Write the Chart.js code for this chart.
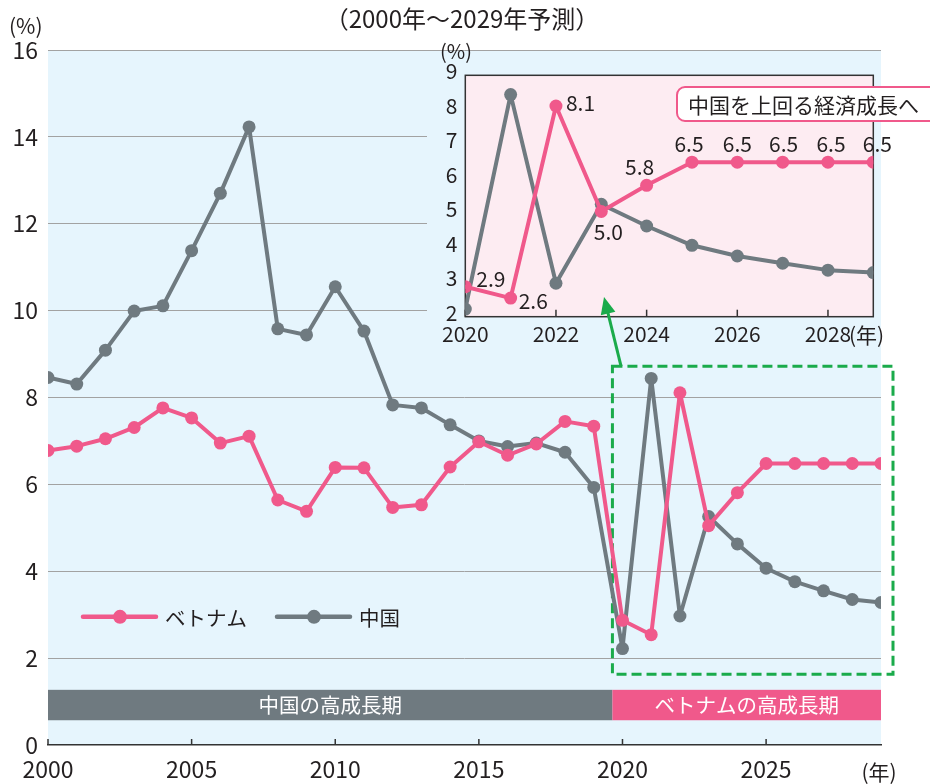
<!DOCTYPE html>
<html>
<head>
<meta charset="utf-8">
<script src="https://cdn.jsdelivr.net/npm/chart.js@4.4.1/dist/chart.umd.min.js"></script>
<style>
  html, body { margin: 0; padding: 0; background: #fff; }
  #wrap { position: relative; width: 930px; height: 784px; overflow: hidden; }
  #main { position: absolute; left: 0; top: 0; }
  #inset { position: absolute; left: 427px; top: 38px; }
</style>
</head>
<body>
<div id="wrap">
  <canvas id="main" width="930" height="784" style="width:930px;height:784px"></canvas>
  <canvas id="inset" width="503" height="340" style="width:503px;height:340px"></canvas>
</div>
<script>
// データ
const years = [2000, 2001, 2002, 2003, 2004, 2005, 2006, 2007, 2008, 2009,
               2010, 2011, 2012, 2013, 2014, 2015, 2016, 2017, 2018, 2019,
               2020, 2021, 2022, 2023, 2024, 2025, 2026, 2027, 2028, 2029];
const vietnam = [6.78, 6.88, 7.05, 7.31, 7.76, 7.53, 6.95, 7.11, 5.64, 5.38,
                 6.39, 6.38, 5.47, 5.53, 6.40, 6.98, 6.67, 6.93, 7.45, 7.34,
                 2.87, 2.54, 8.11, 5.05, 5.81, 6.48, 6.48, 6.48, 6.48, 6.48];
const china = [8.46, 8.31, 9.09, 9.99, 10.11, 11.38, 12.70, 14.23, 9.58, 9.44,
               10.55, 9.53, 7.83, 7.76, 7.37, 7.00, 6.87, 6.95, 6.74, 5.93,
               2.22, 8.44, 2.97, 5.26, 4.63, 4.07, 3.76, 3.55, 3.35, 3.28];
const xTicks = [2000, 2005, 2010, 2015, 2020, 2025];
const yTicks = [0, 2, 4, 6, 8, 10, 12, 14, 16];

// 高成長期の帯
const periodEdges = [2000, 2019.65, 2029];
const periodLabels = ['中国の高成長期', 'ベトナムの高成長期'];

// 拡大図（2020年以降）
const insetStart = 20;
const insetYears = years.slice(insetStart);
const insetVietnam = vietnam.slice(insetStart);
const insetChina = china.slice(insetStart);
const insetXTicks = [2020, 2022, 2024, 2026, 2028];
const insetYTicks = [2, 3, 4, 5, 6, 7, 8, 9];
const vietnamLabels = ['2.9', '2.6', '8.1', '5.0', '5.8', '6.5', '6.5', '6.5', '6.5', '6.5'];

const FONT = '"Noto Sans CJK JP", "Noto Sans", sans-serif';
const PINK = '#f0598b';
const GRAY = '#6f7a80';
const SKY = '#e6f5fd';
const ROSE = '#fdecf2';
const GREEN = '#1aab4b';
const INK = '#231f20';

function toPoints(xs, ys) {
    return xs.map((x, i) => ({ x: x, y: ys[i] }));
}

function lineSet(label, data, color) {
    return {
        label: label,
        data: data,
        borderColor: color,
        backgroundColor: color,
        borderWidth: 4,
        borderJoinStyle: 'round',
        borderCapStyle: 'round',
        pointRadius: 6.5,
        pointHoverRadius: 6.5,
        pointBorderWidth: 0,
        tension: 0
    };
}

const mainDecor = {
    id: 'mainDecor',
    beforeDraw(chart) {
        const { ctx, chartArea: a } = chart;
        ctx.save();
        ctx.fillStyle = SKY;
        ctx.fillRect(a.left, a.top, a.right - a.left, a.bottom - a.top);
        ctx.restore();
    },
    beforeDatasetsDraw(chart) {
        const { ctx, chartArea: a } = chart;
        const xs = chart.scales.x, ys = chart.scales.y;
        ctx.save();
        // 帯
        const bandColors = [GRAY, PINK];
        const yTop = ys.getPixelForValue(1.27), yBot = ys.getPixelForValue(0.57);
        for (let i = 0; i < periodLabels.length; i++) {
            const x1 = xs.getPixelForValue(periodEdges[i]);
            const x2 = xs.getPixelForValue(periodEdges[i + 1]);
            ctx.fillStyle = bandColors[i];
            ctx.fillRect(x1, yTop, x2 - x1, yBot - yTop);
            ctx.fillStyle = '#fff';
            ctx.font = '20.5px ' + FONT;
            ctx.textAlign = 'center';
            ctx.textBaseline = 'middle';
            ctx.fillText(periodLabels[i], (x1 + x2) / 2, (yTop + yBot) / 2);
        }
        // 内向きの目盛り
        ctx.strokeStyle = '#333';
        ctx.lineWidth = 1.5;
        xTicks.forEach(v => {
            const x = xs.getPixelForValue(v);
            ctx.beginPath();
            ctx.moveTo(x, a.bottom - 6);
            ctx.lineTo(x, a.bottom);
            ctx.stroke();
        });
        // 点線の枠
        ctx.strokeStyle = GREEN;
        ctx.lineWidth = 3;
        ctx.setLineDash([10, 5]);
        const rx1 = xs.getPixelForValue(2019.65), rx2 = xs.getPixelForValue(2029) + 12;
        const ry1 = ys.getPixelForValue(8.72), ry2 = ys.getPixelForValue(1.63);
        ctx.strokeRect(rx1, ry1, rx2 - rx1, ry2 - ry1);
        ctx.restore();
    },
    afterDraw(chart) {
        const { ctx, chartArea: a } = chart;
        const ys = chart.scales.y;
        ctx.save();
        ctx.fillStyle = INK;
        ctx.textBaseline = 'middle';
        ctx.font = '24px ' + FONT;
        ctx.textAlign = 'center';
        ctx.fillText('（2000年～2029年予測）', 462, 19);
        ctx.font = '21px ' + FONT;
        ctx.textAlign = 'left';
        ctx.fillText('(%)', 9, 26);
        ctx.font = '21px ' + FONT;
        ctx.textAlign = 'center';
        ctx.fillText('(年)', a.right - 2, 772);

        // 凡例
        const ly = ys.getPixelForValue(2.95);
        const items = [[PINK, 'ベトナム', 35], [GRAY, '中国', 229]];
        items.forEach(([c, t, off]) => {
            const x0 = a.left + off;
            ctx.strokeStyle = c;
            ctx.lineWidth = 4.5;
            ctx.lineCap = 'round';
            ctx.beginPath();
            ctx.moveTo(x0, ly);
            ctx.lineTo(x0 + 73, ly);
            ctx.stroke();
            ctx.fillStyle = c;
            ctx.beginPath();
            ctx.arc(x0 + 37, ly, 7, 0, Math.PI * 2);
            ctx.fill();
            ctx.fillStyle = INK;
            ctx.font = '20.5px ' + FONT;
            ctx.textAlign = 'left';
            ctx.fillText(t, x0 + 82, ly + 1);
        });
        ctx.restore();
    }
};

new Chart(document.getElementById('main'), {
    type: 'line',
    data: {
        datasets: [
            lineSet('ベトナム', toPoints(years, vietnam), PINK),
            lineSet('中国', toPoints(years, china), GRAY)
        ]
    },
    options: {
        responsive: false,
        animation: false,
        events: [],
        layout: { padding: { top: 50, right: 49, left: 0, bottom: 0 } },
        plugins: { legend: { display: false }, tooltip: { enabled: false } },
        scales: {
            x: {
                type: 'linear',
                min: 2000,
                max: 2029,
                afterBuildTicks: s => { s.ticks = xTicks.map(v => ({ value: v })); },
                afterFit: s => { s.height = 39; },
                grid: { drawOnChartArea: false, drawTicks: false },
                border: { display: true, color: '#333', width: 1.5 },
                ticks: {
                    autoSkip: false, maxRotation: 0, padding: 10, color: INK,
                    font: { family: FONT, size: 23 },
                    callback: v => String(v)
                }
            },
            y: {
                min: 0,
                max: 16,
                afterBuildTicks: s => { s.ticks = yTicks.map(v => ({ value: v })); },
                afterFit: s => { s.width = 48; },
                grid: {
                    drawTicks: false,
                    lineWidth: 1,
                    color: c => c.tick && c.tick.value === 0 ? 'rgba(0,0,0,0)' : '#a2a2a2'
                },
                border: { display: false },
                ticks: { padding: 10, color: INK, font: { family: FONT, size: 23 } }
            }
        }
    },
    plugins: [mainDecor]
});

const insetOffsets = [[11, -8, 'left'], [8, 3, 'left'], [10, -3, 'left'], [7, 20, 'center'], [-7, -18, 'center'],
                      [-3, -18, 'center'], [0, -18, 'center'], [1, -18, 'center'], [3, -18, 'center'], [4, -18, 'center']];

const insetDecor = {
    id: 'insetDecor',
    beforeDraw(chart) {
        const { ctx, chartArea: a } = chart;
        ctx.save();
        ctx.fillStyle = SKY;
        ctx.fillRect(0, 13, 454, 299);
        ctx.fillStyle = ROSE;
        ctx.fillRect(a.left, a.top, a.right - a.left, a.bottom - a.top);
        ctx.restore();
    },
    beforeDatasetsDraw(chart) {
        const { ctx, chartArea: a } = chart;
        const xs = chart.scales.x;
        ctx.save();
        ctx.strokeStyle = '#333';
        ctx.lineWidth = 1.5;
        ctx.strokeRect(a.left, a.top, a.right - a.left, a.bottom - a.top);
        insetXTicks.forEach(v => {
            const x = xs.getPixelForValue(v);
            ctx.beginPath();
            ctx.moveTo(x, a.bottom - 7);
            ctx.lineTo(x, a.bottom);
            ctx.stroke();
        });
        ctx.restore();
    },
    afterDraw(chart) {
        const { ctx, chartArea: a } = chart;
        const xs = chart.scales.x, ys = chart.scales.y;
        ctx.save();
        ctx.fillStyle = INK;
        ctx.textBaseline = 'middle';
        ctx.font = '20px ' + FONT;
        ctx.textAlign = 'left';
        ctx.fillText('(%)', 13, 13);
        ctx.font = '21px ' + FONT;
        ctx.fillText('(年)', xs.getPixelForValue(2028) + 21, a.bottom + 18);

        // 数値ラベル
        const pts = chart.getDatasetMeta(0).data;
        ctx.font = '21px ' + FONT;
        pts.forEach((p, i) => {
            const [dx, dy, al] = insetOffsets[i];
            ctx.textAlign = al;
            ctx.fillText(vietnamLabels[i], p.x + dx, p.y + dy);
        });

        // 吹き出し
        ctx.fillStyle = '#fff';
        ctx.strokeStyle = PINK;
        ctx.lineWidth = 2;
        ctx.beginPath();
        ctx.roundRect(250, 49, 270, 34, 8);
        ctx.fill();
        ctx.stroke();
        ctx.fillStyle = INK;
        ctx.textAlign = 'left';
        ctx.font = '21px ' + FONT;
        ctx.fillText('中国を上回る経済成長へ', 261, 67);

        // 矢印
        const tx = xs.getPixelForValue(2023.06), ty = ys.getPixelForValue(2.57);
        const bx = tx + 17, by = ty + 69;
        const ang = Math.atan2(ty - by, tx - bx);
        ctx.strokeStyle = GREEN;
        ctx.fillStyle = GREEN;
        ctx.lineWidth = 3;
        ctx.beginPath();
        ctx.moveTo(bx, by);
        ctx.lineTo(tx - 12 * Math.cos(ang), ty - 12 * Math.sin(ang));
        ctx.stroke();
        ctx.beginPath();
        ctx.moveTo(tx, ty);
        ctx.lineTo(tx - 17 * Math.cos(ang) + 7.5 * Math.sin(ang), ty - 17 * Math.sin(ang) - 7.5 * Math.cos(ang));
        ctx.lineTo(tx - 17 * Math.cos(ang) - 7.5 * Math.sin(ang), ty - 17 * Math.sin(ang) + 7.5 * Math.cos(ang));
        ctx.closePath();
        ctx.fill();
        ctx.restore();
    }
};

new Chart(document.getElementById('inset'), {
    type: 'line',
    data: {
        datasets: [
            lineSet('ベトナム', toPoints(insetYears, insetVietnam), PINK),
            lineSet('中国', toPoints(insetYears, insetChina), GRAY)
        ]
    },
    options: {
        responsive: false,
        animation: false,
        events: [],
        layout: { padding: { top: 37.3, right: 56.7, left: 0, bottom: 30 } },
        plugins: { legend: { display: false }, tooltip: { enabled: false } },
        scales: {
            x: {
                type: 'linear',
                min: 2020,
                max: 2029,
                afterBuildTicks: s => { s.ticks = insetXTicks.map(v => ({ value: v })); },
                afterFit: s => { s.height = 31.3; },
                grid: { drawOnChartArea: false, drawTicks: false },
                border: { display: false },
                ticks: {
                    autoSkip: false, maxRotation: 0, padding: 5, color: INK,
                    font: { family: FONT, size: 21 },
                    callback: v => String(v)
                }
            },
            y: {
                min: 2,
                max: 9,
                afterBuildTicks: s => { s.ticks = insetYTicks.map(v => ({ value: v })); },
                afterFit: s => { s.width = 38.3; },
                grid: { drawOnChartArea: false, drawTicks: false },
                border: { display: false },
                ticks: { padding: 8, labelOffset: -4, color: INK, font: { family: FONT, size: 21 } }
            }
        }
    },
    plugins: [insetDecor]
});
</script>
</body>
</html>
